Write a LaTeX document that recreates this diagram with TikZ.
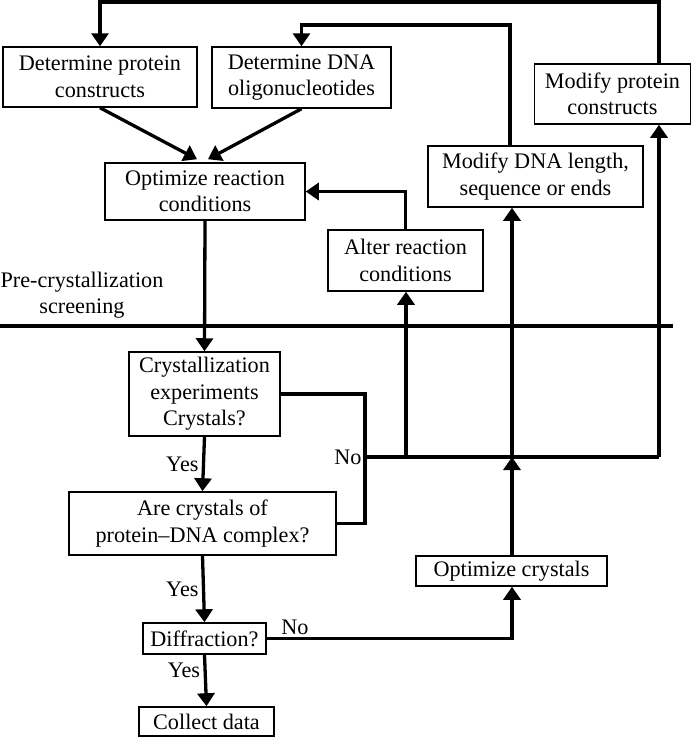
\documentclass[tikz,border=0pt]{standalone}
\usepackage{fontspec}
\setmainfont{Liberation Serif}
\usetikzlibrary{arrows.meta,calc}
\begin{document}
\begin{tikzpicture}[x=1pt,y=-1pt,
        box/.style={draw,line width=1.5pt,align=center,inner sep=0pt,font=\fontsize{22.2}{26.5}\selectfont},
        lbl/.style={font=\fontsize{22.2}{26.5}\selectfont},
        arr/.style={line width=3.3pt,-{Triangle[length=13pt,width=17pt]}},
        lin/.style={line width=3.3pt}]
                \useasboundingbox (0,0) rectangle (692,737);
                \node[box,minimum width=194pt,minimum height=60pt] (protein) at (100,77) {Determine protein\\constructs};
                \node[box,minimum width=179pt,minimum height=61pt] (dna) at (301.5,77.5) {Determine DNA\\oligonucleotides};
                \node[box,minimum width=200pt,minimum height=57pt] (optreact) at (205,191.5) {Optimize reaction\\conditions};
                \node[box,minimum width=155pt,minimum height=61pt] (alter) at (405.5,260.5) {Alter reaction\\conditions};
                \node[box,minimum width=215pt,minimum height=61pt] (moddna) at (535.5,176.5) {Modify DNA length,\\sequence or ends};
                \node[box,minimum width=156pt,minimum height=60pt] (modprot) at (612.5,94) {Modify protein\\constructs};
                \node[box,minimum width=151pt,minimum height=84pt] (cryst) at (204.5,394) {Crystallization\\experiments\\Crystals?};
                \node[box,minimum width=267pt,minimum height=63pt] (arecryst) at (202.5,523.5) {Are crystals of\\protein--DNA complex?};
                \node[box,minimum width=123pt,minimum height=31pt] (diffr) at (204.5,638.5) {Diffraction?};
                \node[box,minimum width=135pt,minimum height=29pt] (collect) at (206.5,721.5) {Collect data};
                \node[box,minimum width=191pt,minimum height=30pt] (optcryst) at (511.5,571) {Optimize crystals};
                \node[lbl,align=center] (pre) at (82,295) {Pre-crystallization\\screening};
                \coordinate (top) at (659,2);
                \coordinate (mid) at (510,25);
                \coordinate (jA) at (365,457);
                \coordinate (jB) at (406,457);
                \coordinate (jC) at (512,457);
                \coordinate (jD) at (659,457);
                \draw[line width=4.5pt](0,326)--(673,326);
                \draw[arr](jD |- modprot.north)--(top)-|(protein.north);
                \draw[arr](mid |- moddna.north)--(mid)-|(dna.north);
                \draw[arr](alter.north)|-(optreact.east);
                \draw[arr](protein.south)--($(optreact.north)+(-8,-3)$);
                \draw[arr](dna.south)--($(optreact.north)+(3,-3)$);
                \draw[arr](optreact.south)--(cryst.north);
                \draw[lin](cryst.east)-|(jA)|-(arecryst.east);
                \draw[lin](jA)--(jD);
                \node[lbl,left] (no1) at (jA) {No};
                \draw[arr](jB)--(jB |- alter.south);
                \draw[arr](jC)--(jC |- moddna.south);
                \draw[arr](jD)--(jD |- modprot.south);
                \draw[arr](cryst.south)--node[lbl,left]{Yes}(arecryst.north);
                \draw[arr](arecryst.south)--node[lbl,left]{Yes}(diffr.north);
                \draw[arr](diffr.south)--node[lbl,left,pos=0.3]{Yes}(collect.north);
                \draw[arr](diffr.east)-|(jC |- optcryst.south);
                \node[lbl] (no2) at (295,627) {No};
                \draw[arr](jC |- optcryst.north)--(jC);
\end{tikzpicture}
\end{document}
